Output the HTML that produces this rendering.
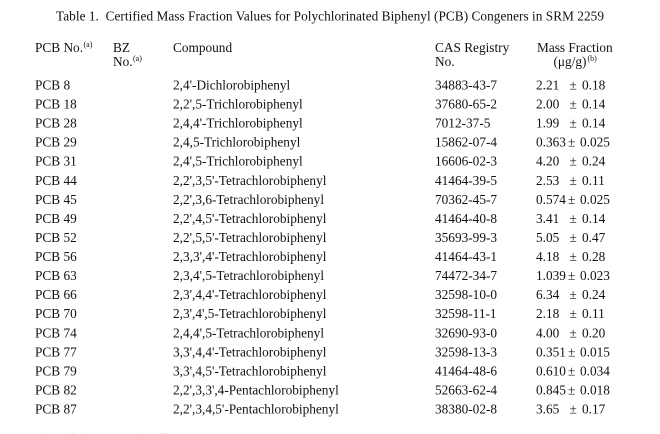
<!DOCTYPE html>
<html>
<head>
<meta charset="utf-8">
<style>
  html, body { margin:0; padding:0; background:#fff; }
  body { width:660px; height:434px; overflow:hidden; }
  svg { display:block; }
  text { font-family: "Liberation Serif", "Times New Roman", serif; font-size:13.3px; fill:#111; }
  .sup { font-size:8px; }
</style>
</head>
<body>
<svg width="660" height="434" viewBox="0 0 660 434" xmlns="http://www.w3.org/2000/svg">
  <rect width="660" height="434" fill="#fff"/>
  <!-- Title -->
  <text x="56" y="20.5" textLength="548" lengthAdjust="spacing" xml:space="preserve">Table 1.  Certified Mass Fraction Values for Polychlorinated Biphenyl (PCB) Congeners in SRM 2259</text>

  <!-- Header -->
  <text x="35" y="52">PCB No.</text><text class="sup" x="83.5" y="47">(a)</text>
  <text x="113" y="52">BZ</text>
  <text x="113" y="66">No.</text><text class="sup" x="133" y="61">(a)</text>
  <text x="173" y="52">Compound</text>
  <text x="435" y="52">CAS Registry</text>
  <text x="435" y="66">No.</text>
  <text x="537" y="52">Mass Fraction</text>
  <text x="553.5" y="66">(μg/g)</text><text class="sup" x="587.5" y="61">(b)</text>

  <!-- Rows -->
  <g>
    <text x="35" y="89.5">PCB 8</text><text x="173" y="89.5">2,4'-Dichlorobiphenyl</text><text x="435" y="89.5">34883-43-7</text><text x="536" y="89.5">2.21</text><text x="569.5" y="89.5">±</text><text x="582" y="89.5">0.18</text>

    <text x="35" y="108.56">PCB 18</text><text x="173" y="108.56">2,2',5-Trichlorobiphenyl</text><text x="435" y="108.56">37680-65-2</text><text x="536" y="108.56">2.00</text><text x="569.5" y="108.56">±</text><text x="582" y="108.56">0.14</text>

    <text x="35" y="127.62">PCB 28</text><text x="173" y="127.62">2,4,4'-Trichlorobiphenyl</text><text x="435" y="127.62">7012-37-5</text><text x="536" y="127.62">1.99</text><text x="569.5" y="127.62">±</text><text x="582" y="127.62">0.14</text>

    <text x="35" y="146.68">PCB 29</text><text x="173" y="146.68">2,4,5-Trichlorobiphenyl</text><text x="435" y="146.68">15862-07-4</text><text x="536" y="146.68">0.363</text><text x="568" y="146.68">±</text><text x="580" y="146.68">0.025</text>

    <text x="35" y="165.74">PCB 31</text><text x="173" y="165.74">2,4',5-Trichlorobiphenyl</text><text x="435" y="165.74">16606-02-3</text><text x="536" y="165.74">4.20</text><text x="569.5" y="165.74">±</text><text x="582" y="165.74">0.24</text>

    <text x="35" y="184.8">PCB 44</text><text x="173" y="184.8">2,2',3,5'-Tetrachlorobiphenyl</text><text x="435" y="184.8">41464-39-5</text><text x="536" y="184.8">2.53</text><text x="569.5" y="184.8">±</text><text x="582" y="184.8">0.11</text>

    <text x="35" y="203.86">PCB 45</text><text x="173" y="203.86">2,2',3,6-Tetrachlorobiphenyl</text><text x="435" y="203.86">70362-45-7</text><text x="536" y="203.86">0.574</text><text x="568" y="203.86">±</text><text x="580" y="203.86">0.025</text>

    <text x="35" y="222.92">PCB 49</text><text x="173" y="222.92">2,2',4,5'-Tetrachlorobiphenyl</text><text x="435" y="222.92">41464-40-8</text><text x="536" y="222.92">3.41</text><text x="569.5" y="222.92">±</text><text x="582" y="222.92">0.14</text>

    <text x="35" y="241.98">PCB 52</text><text x="173" y="241.98">2,2',5,5'-Tetrachlorobiphenyl</text><text x="435" y="241.98">35693-99-3</text><text x="536" y="241.98">5.05</text><text x="569.5" y="241.98">±</text><text x="582" y="241.98">0.47</text>

    <text x="35" y="261.04">PCB 56</text><text x="173" y="261.04">2,3,3',4'-Tetrachlorobiphenyl</text><text x="435" y="261.04">41464-43-1</text><text x="536" y="261.04">4.18</text><text x="569.5" y="261.04">±</text><text x="582" y="261.04">0.28</text>

    <text x="35" y="280.1">PCB 63</text><text x="173" y="280.1">2,3,4',5-Tetrachlorobiphenyl</text><text x="435" y="280.1">74472-34-7</text><text x="536" y="280.1">1.039</text><text x="568" y="280.1">±</text><text x="580" y="280.1">0.023</text>

    <text x="35" y="299.16">PCB 66</text><text x="173" y="299.16">2,3',4,4'-Tetrachlorobiphenyl</text><text x="435" y="299.16">32598-10-0</text><text x="536" y="299.16">6.34</text><text x="569.5" y="299.16">±</text><text x="582" y="299.16">0.24</text>

    <text x="35" y="318.22">PCB 70</text><text x="173" y="318.22">2,3',4',5-Tetrachlorobiphenyl</text><text x="435" y="318.22">32598-11-1</text><text x="536" y="318.22">2.18</text><text x="569.5" y="318.22">±</text><text x="582" y="318.22">0.11</text>

    <text x="35" y="337.28">PCB 74</text><text x="173" y="337.28">2,4,4',5-Tetrachlorobiphenyl</text><text x="435" y="337.28">32690-93-0</text><text x="536" y="337.28">4.00</text><text x="569.5" y="337.28">±</text><text x="582" y="337.28">0.20</text>

    <text x="35" y="356.34">PCB 77</text><text x="173" y="356.34">3,3',4,4'-Tetrachlorobiphenyl</text><text x="435" y="356.34">32598-13-3</text><text x="536" y="356.34">0.351</text><text x="568" y="356.34">±</text><text x="580" y="356.34">0.015</text>

    <text x="35" y="375.4">PCB 79</text><text x="173" y="375.4">3,3',4,5'-Tetrachlorobiphenyl</text><text x="435" y="375.4">41464-48-6</text><text x="536" y="375.4">0.610</text><text x="568" y="375.4">±</text><text x="580" y="375.4">0.034</text>

    <text x="35" y="394.46">PCB 82</text><text x="173" y="394.46">2,2',3,3',4-Pentachlorobiphenyl</text><text x="435" y="394.46">52663-62-4</text><text x="536" y="394.46">0.845</text><text x="568" y="394.46">±</text><text x="580" y="394.46">0.018</text>

    <text x="35" y="413.52">PCB 87</text><text x="173" y="413.52">2,2',3,4,5'-Pentachlorobiphenyl</text><text x="435" y="413.52">38380-02-8</text><text x="536" y="413.52">3.65</text><text x="569.5" y="413.52">±</text><text x="582" y="413.52">0.17</text>
  </g>

  <!-- faint cut-off footnote line -->
  <text x="35" y="443" style="fill:#d4d4d4">(a) Ballschmiter and Zell</text>
</svg>
</body>
</html>
